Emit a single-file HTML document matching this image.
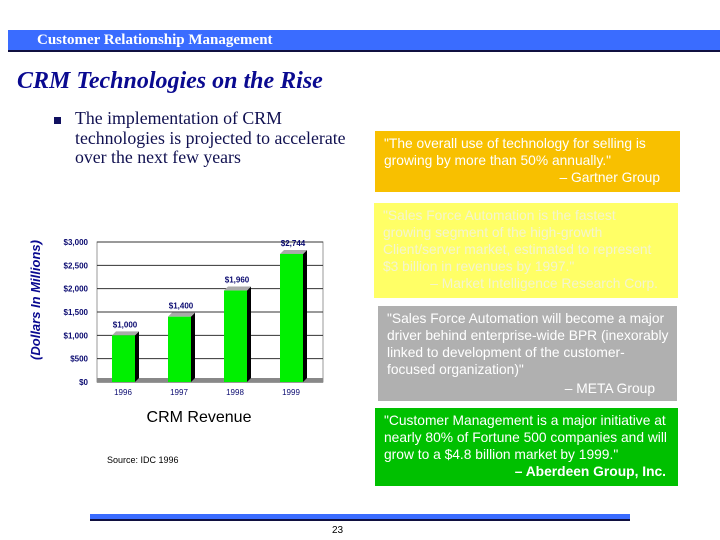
<!DOCTYPE html>
<html><head><meta charset="utf-8"><style>
body{margin:0;width:720px;height:540px;background:#fff;position:relative;overflow:hidden;font-family:"Liberation Sans",sans-serif}
.abs{position:absolute}
.box{position:absolute;box-sizing:border-box;padding:4px 4px 4px 9px;font-size:13.8px;line-height:17px;color:#fff;white-space:nowrap}
.r{text-align:right}
</style></head><body>
<div class="abs" style="left:8px;top:30px;width:712px;height:20px;background:#3a6cff;border-bottom:2px solid #101040"></div>
<div class="abs" style="left:37px;top:32px;font-family:'Liberation Serif',serif;font-weight:bold;font-size:15px;color:#fff">Customer Relationship Management</div>
<div class="abs" style="left:17px;top:68px;font-family:'Liberation Serif',serif;font-weight:bold;font-style:italic;font-size:24px;color:#0a0a90">CRM Technologies on the Rise</div>
<div class="abs" style="left:54px;top:117px;width:7px;height:7px;background:#101060"></div>
<div class="abs" style="left:75px;top:109px;white-space:nowrap;font-family:'Liberation Serif',serif;font-size:17.8px;line-height:19.5px;color:#101050">The implementation of CRM<br>technologies is projected to accelerate<br>over the next few years</div>

<div class="box" style="left:375px;top:131px;width:305px;height:61px;background:#f8c000;padding-right:20px">"The overall use of technology for selling is<br>growing by more than 50% annually."<div class="r">– Gartner Group</div></div>
<div class="box" style="left:374px;top:203px;width:304px;height:95px;background:#ffff66;color:#f4f4d0;padding-right:20px">"Sales Force Automation is the fastest<br>growing segment of the high-growth<br>Client/server market, estimated to represent<br>$3 billion in revenues by 1997."<div class="r">– Market Intelligence Research Corp.</div></div>
<div class="box" style="left:378px;top:306px;width:299px;height:95px;background:#b0b0b0">"Sales Force Automation will become a major<br>driver behind enterprise-wide BPR (inexorably<br>linked to development of the customer-<br>focused organization)"<div class="r" style="padding-right:18px;margin-top:2px">– META Group</div></div>
<div class="box" style="left:375px;top:408px;width:303px;height:78px;background:#00c000">"Customer Management is a major initiative at<br>nearly 80% of Fortune 500 companies and will<br>grow to a $4.8 billion market by 1999."<div class="r" style="padding-right:8px;font-weight:bold">– Aberdeen Group, Inc.</div></div>

<svg class="abs" style="left:0;top:0" width="720" height="540">
<g id="chart"></g>
<text x="40" y="300" transform="rotate(-90 40 300)" text-anchor="middle" font-family="Liberation Sans" font-style="italic" font-weight="bold" font-size="13" fill="#0a0a90">(Dollars In Millions)</text>
<text x="199" y="422" text-anchor="middle" font-family="Liberation Sans" font-size="16" fill="#000">CRM Revenue</text>
<text x="107" y="463" font-family="Liberation Sans" font-size="9" fill="#000">Source: IDC 1996</text>
</svg>

<div class="abs" style="left:90px;top:514px;width:540px;height:5px;background:#3a6cff;border-bottom:2px solid #101040"></div>
<div class="abs" style="left:332px;top:525px;font-size:10px">23</div>

<script>
const categories=["1996","1997","1998","1999"];
const values=[1000,1400,1960,2744];
const valueLabels=["$1,000","$1,400","$1,960","$2,744"];
const ticks=[0,500,1000,1500,2000,2500,3000];
const tickLabels=["$0","$500","$1,000","$1,500","$2,000","$2,500","$3,000"];
const NS="http://www.w3.org/2000/svg";
const g=document.getElementById('chart');
const x0=97,x1=323,yTop=242,yBot=382,max=3000;
const y=v=>yBot-(v/max)*(yBot-yTop);
const xc=i=>123+i*56;
function mk(t,a){const e=document.createElementNS(NS,t);for(const k in a)e.setAttribute(k,a[k]);g.appendChild(e);return e;}
mk('rect',{x:x0,y:yTop,width:x1-x0,height:yBot-yTop,fill:'#fff',stroke:'#999'});
ticks.forEach((t,i)=>{
  const l=mk('line',{x1:x0,x2:x1,y1:y(t),y2:y(t),stroke:'#333','stroke-width':1});
  
  
  const tx=mk('text',{x:88,y:y(t)+3,'text-anchor':'end','font-family':'Liberation Sans','font-size':8,'font-weight':'bold',fill:'#0a0a70'});
  tx.textContent=tickLabels[i];
  
  
});
mk('rect',{x:x0,y:yBot-4,width:x1-x0,height:4,fill:'#888'});
categories.forEach((c,i)=>{
  const bx=xc(i)-11,w=23,top=y(values[i]);
  const s=mk('polygon',{points:`${bx+w},${top} ${bx+w+4},${top-4} ${bx+w+4},${yBot-4} ${bx+w},${yBot}`,fill:'#000'});
  
  
  const tp=mk('polygon',{points:`${bx},${top} ${bx+4},${top-4} ${bx+w+4},${top-4} ${bx+w},${top}`,fill:'#aaa'});
  
  
  const r=mk('rect',{x:bx,y:top,width:w,height:yBot-top,fill:'#00f000'});
  
  
  const vl=mk('text',{x:xc(i)+2,y:top-8,'text-anchor':'middle','font-family':'Liberation Sans','font-size':8,'font-weight':'bold',fill:'#0a0a70'});
  vl.textContent=valueLabels[i];
  
  
  const cl=mk('text',{x:xc(i),y:395,'text-anchor':'middle','font-family':'Liberation Sans','font-size':8,fill:'#0a0a70'});
  cl.textContent=c;
  
  
});
</script>
</body></html>
